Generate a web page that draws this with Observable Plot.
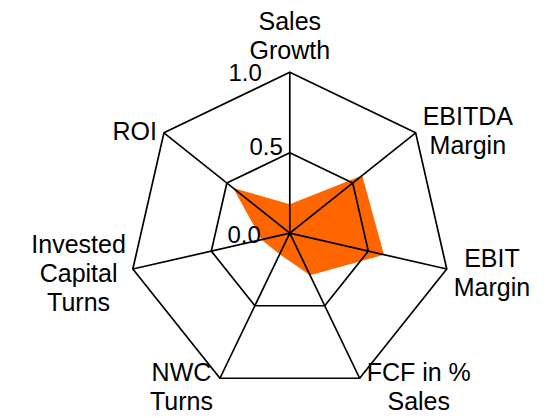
<!DOCTYPE html>
<html>
<head>
<meta charset="utf-8">
<script src="https://cdn.jsdelivr.net/npm/d3@7"></script>
<script src="https://cdn.jsdelivr.net/npm/@observablehq/plot@0.6"></script>
<style>
  html, body { margin: 0; padding: 0; background: #fff; }
  #chart svg { display: block; }
</style>
</head>
<body>
<div id="chart"></div>
<script>
// ---- data ----
const axisLabels = ["Sales\nGrowth", "EBITDA\nMargin", "EBIT\nMargin", "FCF in %\nSales", "NWC\nTurns", "Invested\nCapital\nTurns", "ROI"];
const values = [0.18, 0.575, 0.60, 0.29, 0.145, 0.18, 0.45];
const gridLevels = [0.5, 1.0];
const tickValues = [0.0, 0.5, 1.0];
const tickLabels = ["0.0", "0.5", "1.0"];

// ---- layout ----
const W = 547, H = 418;
const R = 161, cx = 289.3, cy = 232.7;   // radius and centre in px
const n = axisLabels.length;
const ang = i => i * 2 * Math.PI / n;
const px = (r, i) => r * Math.sin(ang(i));
const py = (r, i) => r * Math.cos(ang(i));

const FONT = "'Liberation Sans', Arial, Helvetica, sans-serif";
const ctx = document.createElement("canvas").getContext("2d");
ctx.font = `25px ${FONT}`;
const blockWidth = s => Math.max(...s.split("\n").map(l => ctx.measureText(l).width));

const dataPoly = values.map((v, i) => ({x: px(v, i), y: py(v, i)}));
const gridPoly = gridLevels.flatMap(l => axisLabels.map((_, i) => ({level: l, x: px(l, i), y: py(l, i)})));
const spokes = axisLabels.map((_, i) => ({x2: px(1, i), y2: py(1, i)}));

const labelMarks = axisLabels.map((lab, i) => {
  const s = Math.sin(ang(i)), c = Math.cos(ang(i));
  const gap = 7;
  const half = blockWidth(lab) / 2;
  const isTop = Math.abs(s) < 0.1 && c > 0;
  const dx = Math.abs(s) < 0.1 ? 0 : Math.sign(s) * (half + gap);
  const dy = isTop ? -13.5 : 2 - 7 * c;
  return Plot.text([lab], {
    x: () => px(1, i), y: () => py(1, i), text: d => d,
    textAnchor: "middle", lineAnchor: isTop ? "bottom" : "middle",
    lineHeight: 1.16, fontSize: 25, fill: "#000", dx, dy
  });
});

const tickOffsets = [[-29, 2.3], [-7, -5.7], [-28, 1.6]];
const tickMarks = tickValues.map((t, k) => Plot.text([tickLabels[k]], {
  x: () => 0, y: () => t, text: d => d,
  textAnchor: "end", lineAnchor: "middle", fontSize: 24, fill: "#000",
  dx: tickOffsets[k][0], dy: tickOffsets[k][1]
}));

const chart = Plot.plot({
  width: W, height: H,
  marginTop: 0, marginRight: 0, marginBottom: 0, marginLeft: 0,
  style: {fontFamily: FONT, background: "#fff"},
  x: {domain: [-cx / R, (W - cx) / R], axis: null},
  y: {domain: [-(H - cy) / R, cy / R], axis: null},
  marks: [
    Plot.line(dataPoly, {x: "x", y: "y", curve: "linear-closed", fill: "#ff6600", stroke: "none"}),
    Plot.line(gridPoly, {x: "x", y: "y", z: "level", curve: "linear-closed", stroke: "#000", strokeWidth: 1.7, fill: "none"}),
    Plot.link(spokes, {x1: () => 0, y1: () => 0, x2: "x2", y2: "y2", stroke: "#000", strokeWidth: 1.7}),
    ...labelMarks,
    ...tickMarks
  ]
});
document.getElementById("chart").appendChild(chart);
</script>
</body>
</html>
